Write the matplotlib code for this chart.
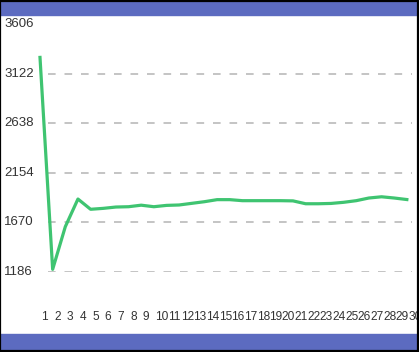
import matplotlib
matplotlib.use("Agg")
import matplotlib.pyplot as plt
from matplotlib.patches import Rectangle
from matplotlib.transforms import blended_transform_factory

W, H = 419, 352

days = list(range(1, 31))
values = [3280, 1212, 1628, 1898, 1798, 1807, 1820, 1823, 1838, 1823,
          1836, 1840, 1856, 1872, 1892, 1892, 1882, 1882, 1882, 1882,
          1880, 1852, 1852, 1855, 1866, 1882, 1908, 1920, 1908, 1893]
y_ticks = [1186, 1670, 2154, 2638, 3122, 3606]

BLUE = "#5c6bc0"
GREEN = "#3fc471"
TEXT = "#333333"

plt.rcParams["font.family"] = ["Liberation Sans", "DejaVu Sans"]

fig = plt.figure(figsize=(W / 100, H / 100), dpi=100)
fig.patch.set_facecolor("white")


def fx(px):
    return px / W


def fy(py):
    return 1 - py / H


# header / footer bands and outer frame
fig.patches.append(Rectangle((0, fy(15)), 1, fy(1) - fy(15), transform=fig.transFigure,
                             color=BLUE, zorder=0))
fig.patches.append(Rectangle((0, fy(350)), 1, fy(334) - fy(350), transform=fig.transFigure,
                             color=BLUE, zorder=0))
fig.patches.append(Rectangle((0.001, 0.002), 0.996, 0.996, transform=fig.transFigure,
                             fill=False, ec="black", lw=1.6, zorder=5))

ax = fig.add_axes([fx(40), fy(272), fx(412) - fx(40), fy(24) - fy(272)])
ax.set_xlim(1, 1 + 372 / 12.65)
ax.set_ylim(y_ticks[0], y_ticks[-1])
ax.axis("off")

for v in y_ticks[:-1]:
    ax.axhline(v, xmin=8 / 372, xmax=1, color="#b4b4b4", lw=1.1,
               linestyle=(0, (5, 5.8)), zorder=1)

ax.plot(days, values, color=GREEN, lw=2.3, solid_joinstyle="round",
        clip_on=False, zorder=3)

ytr = blended_transform_factory(fig.transFigure, ax.transData)
for v in y_ticks:
    ax.text(fx(4), v, str(v), transform=ytr, ha="left", va="center",
            fontsize=9.5, color=TEXT)

xtr = blended_transform_factory(ax.transData, fig.transFigure)
for d in days:
    ax.text(d + 0.12, fy(317.5), str(d), transform=xtr, ha="left", va="center",
            fontsize=8.6, color=TEXT)

fig.savefig("out.png", dpi=100)
